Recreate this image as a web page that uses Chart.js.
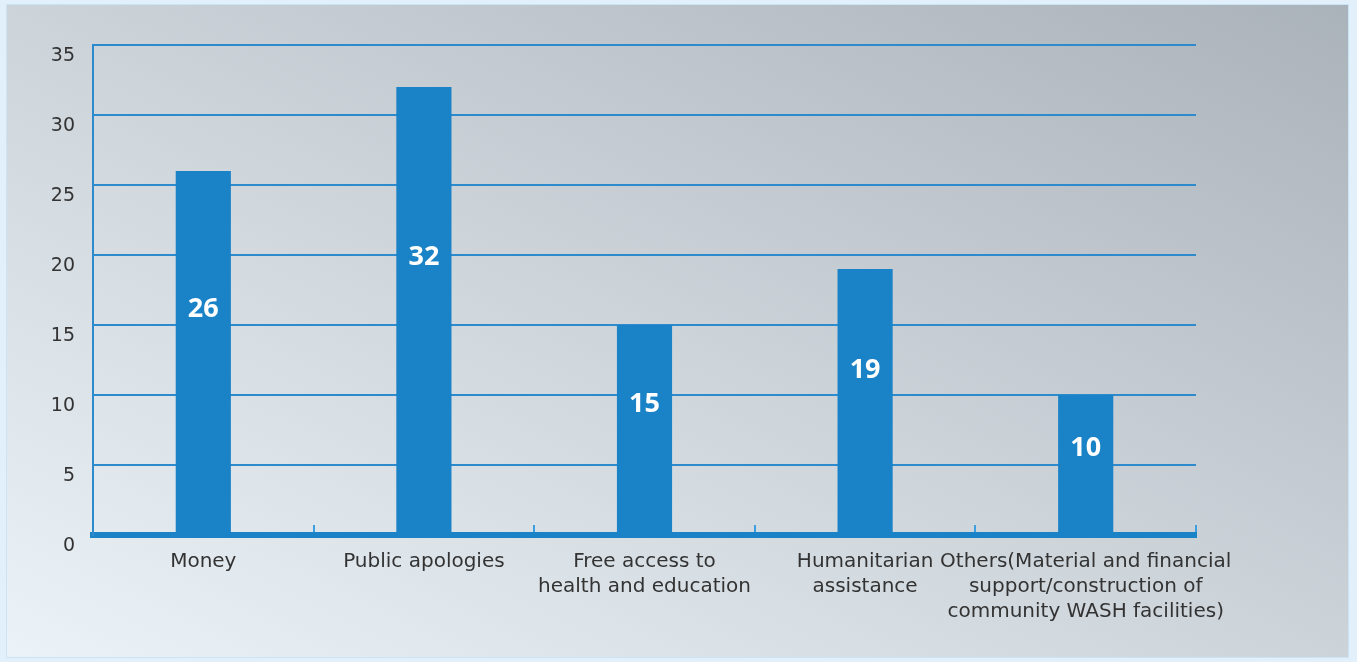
<!DOCTYPE html>
<html>
<head>
<meta charset="utf-8">
<title>Reparation forms</title>
<script src="https://cdn.jsdelivr.net/npm/chart.js@4.4.0/dist/chart.umd.min.js"></script>
<style>
    html, body { margin: 0; padding: 0; }
    body { width: 1357px; height: 662px; background: #e1f0fa; overflow: hidden; position: relative; }
    #panel {
        position: absolute; left: 7px; top: 5px; width: 1341px; height: 652px;
        background: linear-gradient(to top right, #ebf2f8 0%, #ccd3d9 50%, #abb3ba 100%);
        box-shadow: 0 0 0 1px #cbe4f5;
    }
</style>
</head>
<body>
<div id="panel"><canvas id="barChart" width="1341" height="652"></canvas></div>
<script>
// data
const categories = [
    'Money',
    'Public apologies',
    ['Free access to', 'health and education'],
    ['Humanitarian', 'assistance'],
    ['Others(Material and financial', 'support/construction of', 'community WASH facilities)']
];
const counts = [26, 32, 15, 19, 10];
const yTicks = [0, 5, 10, 15, 20, 25, 30, 35];

const barBlue = '#1a82c6';
const gridBlue = '#2d8bcd';
const textGrey = '#333333';
const fontFamily = "'DejaVu Sans', 'Open Sans', sans-serif";

// white numbers inside the bars
const valueLabels = {
    id: 'valueLabels',
    afterDatasetsDraw(chart) {
        const ctx = chart.ctx;
        const yScale = chart.scales.y;
        const meta = chart.getDatasetMeta(0);
        ctx.save();
        ctx.fillStyle = '#ffffff';
        ctx.font = "bold 27px 'Open Sans', sans-serif";
        ctx.textAlign = 'center';
        ctx.textBaseline = 'middle';
        meta.data.forEach(function (bar, i) {
            const v = counts[i];
            ctx.fillText(String(v), bar.x, yScale.getPixelForValue(v * 0.62));
        });
        ctx.restore();
    }
};

const ctx = document.getElementById('barChart').getContext('2d');
new Chart(ctx, {
    type: 'bar',
    data: {
        labels: categories,
        datasets: [{
            data: counts,
            backgroundColor: barBlue,
            borderWidth: 0,
            categoryPercentage: 1,
            barPercentage: 0.25
        }]
    },
    options: {
        responsive: false,
        animation: false,
        layout: { padding: { top: 40, right: 152, left: 0, bottom: 0 } },
        plugins: {
            legend: { display: false },
            tooltip: { enabled: false }
        },
        scales: {
            x: {
                grid: {
                    offset: true,
                    drawOnChartArea: false,
                    drawTicks: true,
                    tickLength: -10,
                    color: '#3d9ee0',
                    lineWidth: 2
                },
                border: { color: barBlue, width: 6 },
                ticks: {
                    color: textGrey,
                    font: { family: fontFamily, size: 20, lineHeight: 1.25 },
                    padding: 24,
                    maxRotation: 0,
                    autoSkip: false
                },
                afterFit: function (scale) { scale.height = 122; }
            },
            y: {
                min: yTicks[0],
                max: yTicks[yTicks.length - 1],
                afterBuildTicks: function (scale) {
                    scale.ticks = yTicks.map(v => ({ value: v }));
                },
                grid: { color: gridBlue, lineWidth: 2, drawTicks: false },
                border: { color: gridBlue, width: 2 },
                ticks: {
                    color: textGrey,
                    font: { family: fontFamily, size: 19 },
                    padding: 18,
                    labelOffset: 11
                },
                afterFit: function (scale) { scale.width = 86; }
            }
        }
    },
    plugins: [valueLabels]
});
</script>
</body>
</html>
